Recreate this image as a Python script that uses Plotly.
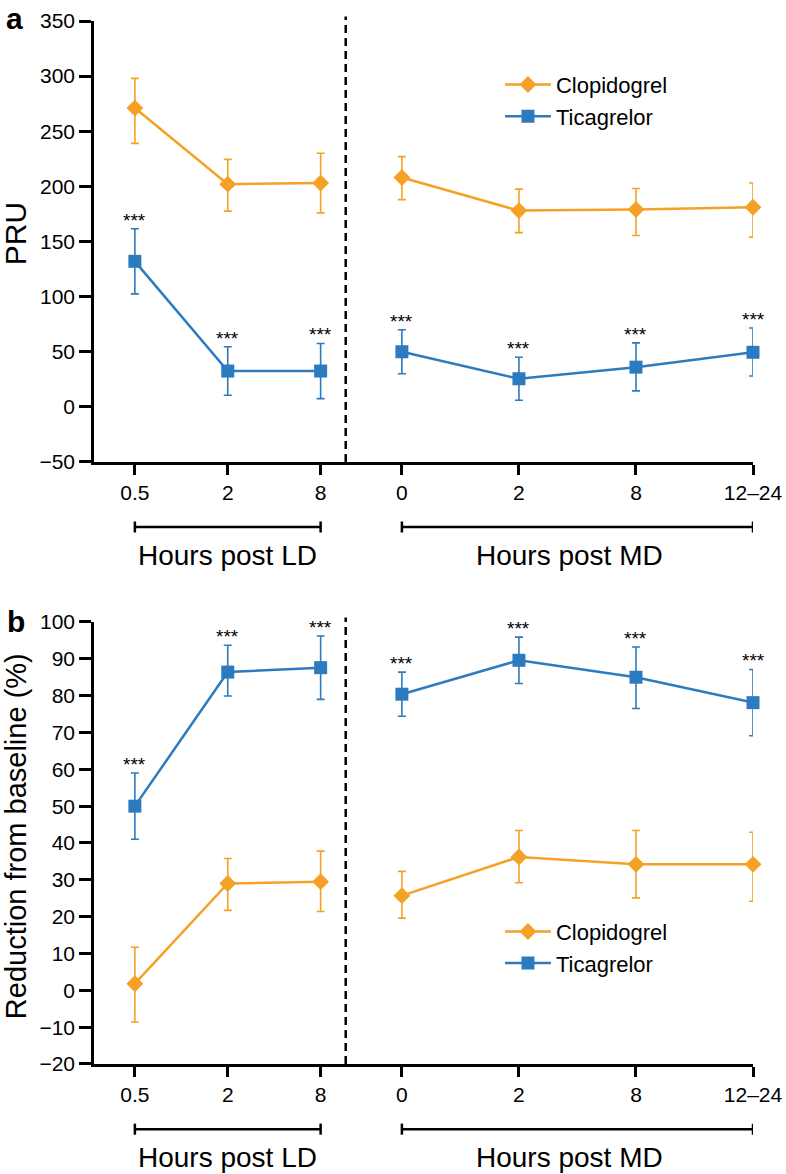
import plotly.graph_objects as go

# ---------------- data ----------------
ld_labels = ["0.5", "2", "8"]
md_labels = ["0", "2", "8", "12–24"]

# Panel a: PRU
pru_clop_ld = [271, 202, 203]
pru_clop_ld_up = [27, 22.5, 27]
pru_clop_ld_dn = [32, 24.5, 27]
pru_clop_md = [208, 178, 179, 181]
pru_clop_md_up = [19, 19.5, 19, 22]
pru_clop_md_dn = [20, 20, 23.5, 27]

pru_tica_ld = [132, 32.5, 32.5]
pru_tica_ld_up = [29.5, 22, 25]
pru_tica_ld_dn = [29.5, 22, 25]
pru_tica_md = [50, 25.5, 36, 49.5]
pru_tica_md_up = [20, 19.5, 22, 22]
pru_tica_md_dn = [20, 19.5, 21.5, 21.5]

# Panel b: reduction from baseline (%)
red_clop_ld = [1.8, 29, 29.5]
red_clop_ld_up = [9.9, 6.8, 8.3]
red_clop_ld_dn = [10.4, 7.3, 8.1]
red_clop_md = [25.7, 36.2, 34.2, 34.2]
red_clop_md_up = [6.6, 7.2, 9.2, 8.7]
red_clop_md_dn = [6.1, 7.0, 9.1, 10.0]

red_tica_ld = [50, 86.4, 87.6]
red_tica_ld_up = [9, 7.3, 8.6]
red_tica_ld_dn = [9, 6.5, 8.6]
red_tica_md = [80.4, 89.6, 85.0, 78.1]
red_tica_md_up = [6, 6.3, 8.2, 9]
red_tica_md_dn = [6, 6.3, 8.5, 9]

# significance markers for Ticagrelor (all time points)
sig_ld = ["***", "***", "***"]
sig_md = ["***", "***", "***", "***"]

# ---------------- layout helpers ----------------
ORANGE = "#F5A126"
BLUE = "#2C7BBF"
FONT = "Liberation Sans, Arial, Helvetica, sans-serif"

# category slot positions along the x axis
ld_x = [0, 1, 2]
md_x = [2.875 + 1.26 * i for i in range(4)]
sep_x = 2.27
x_range = [-0.44, md_x[-1]]

W, H = 786, 1174
ML, MR, MT, MB = 94, 33, 21, 110
PLOT_H = H - MT - MB

fig = go.Figure()


def add_series(xa, ya, legend, x, y, up, dn, color, symbol, size, name, show):
    fig.add_trace(go.Scatter(
        x=x, y=y, mode="lines+markers", name=name, legend=legend,
        showlegend=show, legendgroup=name + legend,
        xaxis=xa, yaxis=ya,
        line=dict(color=color, width=2.5),
        marker=dict(color=color, symbol=symbol, size=size),
        error_y=dict(type="data", array=up, arrayminus=dn, symmetric=False,
                     color=color, thickness=1.6, width=4),
        cliponaxis=False,
    ))


# panel a
add_series("x", "y", "legend", ld_x, pru_clop_ld, pru_clop_ld_up, pru_clop_ld_dn, ORANGE, "diamond", 13, "Clopidogrel", True)
add_series("x", "y", "legend", md_x, pru_clop_md, pru_clop_md_up, pru_clop_md_dn, ORANGE, "diamond", 13, "Clopidogrel", False)
add_series("x", "y", "legend", ld_x, pru_tica_ld, pru_tica_ld_up, pru_tica_ld_dn, BLUE, "square", 13, "Ticagrelor", True)
add_series("x", "y", "legend", md_x, pru_tica_md, pru_tica_md_up, pru_tica_md_dn, BLUE, "square", 13, "Ticagrelor", False)
# panel b
add_series("x2", "y2", "legend2", ld_x, red_clop_ld, red_clop_ld_up, red_clop_ld_dn, ORANGE, "diamond", 13, "Clopidogrel", True)
add_series("x2", "y2", "legend2", md_x, red_clop_md, red_clop_md_up, red_clop_md_dn, ORANGE, "diamond", 13, "Clopidogrel", False)
add_series("x2", "y2", "legend2", ld_x, red_tica_ld, red_tica_ld_up, red_tica_ld_dn, BLUE, "square", 13, "Ticagrelor", True)
add_series("x2", "y2", "legend2", md_x, red_tica_md, red_tica_md_up, red_tica_md_dn, BLUE, "square", 13, "Ticagrelor", False)

annotations = []
shapes = []


def stars(xref, yref, xs, ys, ups, labels):
    for x, y, u, t in zip(xs, ys, ups, labels):
        annotations.append(dict(x=x, y=y + u, xref=xref, yref=yref, text=t,
                                showarrow=False, yanchor="bottom", yshift=-4,
                                font=dict(size=19, color="black", family=FONT)))


stars("x", "y", ld_x, pru_tica_ld, pru_tica_ld_up, sig_ld)
stars("x", "y", md_x, pru_tica_md, pru_tica_md_up, sig_md)
stars("x2", "y2", ld_x, red_tica_ld, red_tica_ld_up, sig_ld)
stars("x2", "y2", md_x, red_tica_md, red_tica_md_up, sig_md)

for xa, ya in (("x", "y"), ("x2", "y2")):
    ydom = ya + " domain"
    # dashed separator
    shapes.append(dict(type="line", xref=xa, yref=ydom, x0=sep_x, x1=sep_x, y0=0, y1=1.01,
                       line=dict(color="black", width=2.5, dash="8px,5px")))
    # group brackets
    for a, b in ((ld_x[0], ld_x[-1]), (md_x[0], md_x[-1])):
        yb = -0.1474
        shapes.append(dict(type="line", xref=xa, yref=ydom, x0=a, x1=b, y0=yb, y1=yb,
                           line=dict(color="black", width=2.5)))
        for xe in (a, b):
            shapes.append(dict(type="line", xref=xa, yref=ydom, x0=xe, x1=xe,
                               y0=yb - 0.0125, y1=yb + 0.0125,
                               line=dict(color="black", width=2.5)))
    annotations.append(dict(x=(ld_x[0] + ld_x[-1]) / 2, y=-0.212, xref=xa, yref=ydom,
                            text="Hours post LD", showarrow=False, yanchor="middle",
                            font=dict(size=28, color="black", family=FONT)))
    annotations.append(dict(x=(md_x[0] + md_x[-1]) / 2 - 0.09, y=-0.212, xref=xa, yref=ydom,
                            text="Hours post MD", showarrow=False, yanchor="middle",
                            font=dict(size=28, color="black", family=FONT)))

# axis titles and panel letters
annotations.append(dict(x=-0.118, y=0.517, xref="x domain", yref="y domain", text="PRU",
                        textangle=-90, showarrow=False, xanchor="center", yanchor="middle",
                        font=dict(size=30, color="black", family=FONT)))
annotations.append(dict(x=-0.118, y=0.516, xref="x2 domain", yref="y2 domain",
                        text="Reduction from baseline (%)",
                        textangle=-90, showarrow=False, xanchor="center", yanchor="middle",
                        font=dict(size=29, color="black", family=FONT)))
annotations.append(dict(x=-0.12, y=1 + MT / PLOT_H, xref="x domain", yref="paper", text="<b>a</b>",
                        showarrow=False, xanchor="center", yanchor="top",
                        font=dict(size=30, color="black", family=FONT)))
annotations.append(dict(x=-0.1184, y=1.0, xref="x2 domain", yref="y2 domain", text="<b>b</b>",
                        showarrow=False, xanchor="center", yanchor="middle",
                        font=dict(size=30, color="black", family=FONT)))

tick_vals = ld_x + md_x
tick_text = ld_labels + md_labels

xaxis_common = dict(range=x_range, tickmode="array", tickvals=tick_vals, ticktext=tick_text,
                    showline=True, linecolor="black", linewidth=2.5, ticks="outside",
                    ticklen=10, tickwidth=2.5, tickcolor="black", showgrid=False,
                    zeroline=False, automargin=False,
                    tickfont=dict(size=21, color="black", family=FONT))
yaxis_common = dict(showline=True, linecolor="black", linewidth=2.5, ticks="outside",
                    ticklen=12, tickwidth=2.5, tickcolor="black", showgrid=False,
                    zeroline=False, automargin=False,
                    tickfont=dict(size=21, color="black", family=FONT))

legend_common = dict(xref="paper", yref="paper", xanchor="left", yanchor="top",
                     bgcolor="rgba(0,0,0,0)", borderwidth=0, itemwidth=46,
                     font=dict(size=22, color="black", family=FONT), tracegroupgap=0)

fig.update_layout(
    width=W, height=H,
    margin=dict(l=ML, r=MR, t=MT, b=MB, autoexpand=False),
    paper_bgcolor="white", plot_bgcolor="white",
    font=dict(family=FONT, color="black"),
    xaxis=dict(domain=[0, 1], anchor="y", **xaxis_common),
    yaxis=dict(domain=[0.5772, 1], anchor="x", range=[-50, 350], tickvals=list(range(-50, 351, 50)), **yaxis_common),
    xaxis2=dict(domain=[0, 1], anchor="y2", **xaxis_common),
    yaxis2=dict(domain=[0, 0.4238], anchor="x2", range=[-20, 100], tickvals=list(range(-20, 101, 10)), **yaxis_common),
    legend=dict(x=0.616, y=0.959, **legend_common),
    legend2=dict(x=0.616, y=0.147, **legend_common),
    annotations=annotations,
    shapes=shapes,
)

# remove the page's default body margin so the figure fills the window exactly
fig.write_html("out.html", config={"displayModeBar": False},
               post_script="document.body.style.margin='0px';")
